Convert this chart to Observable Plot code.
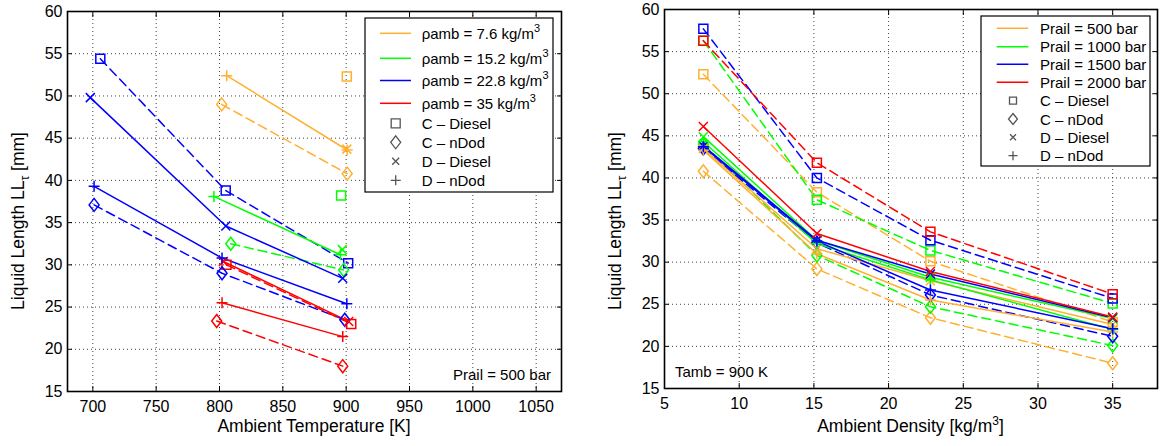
<!DOCTYPE html>
<html><head><meta charset="utf-8">
<script src="https://cdn.jsdelivr.net/npm/d3@7"></script>
<script src="https://cdn.jsdelivr.net/npm/@observablehq/plot@0.6"></script>
<style>
html,body{margin:0;padding:0;background:#fff;}
#wrap{position:relative;width:1164px;height:446px;overflow:hidden;background:#fff;}
#wrap > svg{position:absolute;top:0;}
</style></head><body><div id="wrap"></div>
<script>
// ---------- categories / labels ----------
const caseLabels = ["C – Diesel", "C – nDod", "D – Diesel", "D – nDod"];
const densityLabels = ["7.6", "15.2", "22.8", "35"];
const railLabels = ["500", "1000", "1500", "2000"];
const seriesColors = ["#FFB030", "#00FF00", "#0000FF", "#FF0000"];

const leftXTicks = [700, 750, 800, 850, 900, 950, 1000, 1050];
const leftYTicks = [15, 20, 25, 30, 35, 40, 45, 50, 55, 60];
const rightXTicks = [5, 10, 15, 20, 25, 30, 35];
const rightYTicks = [15, 20, 25, 30, 35, 40, 45, 50, 55, 60];

// ---------- left panel: [ambient temperature K, liquid length mm], Prail = 500 bar ----------
const left_76_CDiesel = [[900.5, 52.3]];
const left_76_CnDod = [[801.7, 49.0], [900.8, 40.8]];
const left_76_DDiesel = [[900.5, 43.7]];
const left_76_DnDod = [[805.7, 52.4], [900.8, 43.6]];
const left_152_CDiesel = [[896, 38.2]];
const left_152_CnDod = [[808.9, 32.5], [898, 29.4]];
const left_152_DDiesel = [[897, 31.8]];
const left_152_DnDod = [[795.6, 38.1], [895.5, 31.2]];
const left_228_CDiesel = [[705.9, 54.4], [804.9, 38.8], [901.6, 30.2]];
const left_228_CnDod = [[701, 37.1], [802, 29.0], [898.9, 23.5]];
const left_228_DDiesel = [[698, 49.8], [805, 34.6], [897.3, 28.4]];
const left_228_DnDod = [[701, 39.3], [802, 30.8], [900.5, 25.4]];
const left_35_CDiesel = [[805.5, 30.0], [904, 23.0]];
const left_35_CnDod = [[797.8, 23.35], [897.3, 18.0]];
const left_35_DDiesel = [[803, 30.4], [902, 23.3]];
const left_35_DnDod = [[802, 25.5], [897.3, 21.5]];

// ---------- right panel: liquid length mm vs ambient density, Tamb = 900 K ----------
const rightDensity = [7.6, 15.2, 22.8, 35];
const right_500_CDiesel = [52.3, 38.3, 30.1, 22.9];
const right_500_CnDod = [40.8, 29.2, 23.4, 18.0];
const right_500_DDiesel = [43.5, 31.6, 27.8, 22.6];
const right_500_DnDod = [43.3, 31.0, 25.5, 21.7];
const right_1000_CDiesel = [56.3, 37.4, 31.4, 25.1];
const right_1000_CnDod = [44.0, 30.8, 24.7, 20.1];
const right_1000_DDiesel = [44.9, 32.6, 28.2, 23.3];
const right_1000_DnDod = [44.3, 32.2, 27.9, 22.0];
const right_1500_CDiesel = [57.7, 40.0, 32.6, 25.7];
const right_1500_CnDod = [43.5, 32.3, 26.1, 21.2];
const right_1500_DDiesel = [43.8, 32.6, 28.6, 23.4];
const right_1500_DnDod = [43.7, 32.5, 26.7, 22.1];
const right_2000_CDiesel = [56.3, 41.8, 33.6, 26.2];
const right_2000_DDiesel = [46.1, 33.4, 28.9, 23.5];

// ---------- build tables ----------
const leftList = [
  [left_76_CDiesel, 0, 0], [left_76_CnDod, 0, 1], [left_76_DDiesel, 0, 2], [left_76_DnDod, 0, 3],
  [left_152_CDiesel, 1, 0], [left_152_CnDod, 1, 1], [left_152_DDiesel, 1, 2], [left_152_DnDod, 1, 3],
  [left_228_CDiesel, 2, 0], [left_228_CnDod, 2, 1], [left_228_DDiesel, 2, 2], [left_228_DnDod, 2, 3],
  [left_35_CDiesel, 3, 0], [left_35_CnDod, 3, 1], [left_35_DDiesel, 3, 2], [left_35_DnDod, 3, 3]
];
const leftRows = [];
leftList.forEach(([arr, ci, ti], si) => arr.forEach(([x, y]) =>
  leftRows.push({x, y, c: densityLabels[ci], t: caseLabels[ti], id: "L" + si})));

const rightList = [
  [right_500_CDiesel, 0, 0], [right_500_CnDod, 0, 1], [right_500_DDiesel, 0, 2], [right_500_DnDod, 0, 3],
  [right_1000_CDiesel, 1, 0], [right_1000_CnDod, 1, 1], [right_1000_DDiesel, 1, 2], [right_1000_DnDod, 1, 3],
  [right_1500_CDiesel, 2, 0], [right_1500_CnDod, 2, 1], [right_1500_DDiesel, 2, 2], [right_1500_DnDod, 2, 3],
  [right_2000_CDiesel, 3, 0], [right_2000_DDiesel, 3, 2]
];
const rightRows = [];
rightList.forEach(([arr, ci, ti], si) => arr.forEach((y, i) =>
  rightRows.push({x: rightDensity[i], y, c: railLabels[ci], t: caseLabels[ti], id: "R" + si})));

// ---------- marker symbols ----------
function mkSquare(s) { return {draw(c) { c.moveTo(-s, -s); c.lineTo(s, -s); c.lineTo(s, s); c.lineTo(-s, s); c.closePath(); }}; }
function mkDiamond(w, h) { return {draw(c) { c.moveTo(0, -h); c.lineTo(w, 0); c.lineTo(0, h); c.lineTo(-w, 0); c.closePath(); }}; }
function mkTimes(s) { return {draw(c) { c.moveTo(-s, -s); c.lineTo(s, s); c.moveTo(s, -s); c.lineTo(-s, s); }}; }
function mkPlus(s) { return {draw(c) { c.moveTo(-s, 0); c.lineTo(s, 0); c.moveTo(0, -s); c.lineTo(0, s); }}; }
const plotSymbols = [mkSquare(4.5), mkDiamond(5, 6.5), mkTimes(4.5), mkPlus(5.5)];

const FONT = "'Liberation Sans', Arial, Helvetica, sans-serif";

function makePanel(o) {
  const dashed = o.rows.filter(d => d.t.startsWith("C"));
  const solid = o.rows.filter(d => d.t.startsWith("D"));
  const gridStyle = {stroke: "#222", strokeOpacity: 0.85, strokeDasharray: "1,3", strokeWidth: 1};
  const tickStyle = {tickSize: -5, tickFormat: () => "", label: null, strokeWidth: 1};
  const marks = [
    Plot.gridX(o.xTicks, gridStyle),
    Plot.gridY(o.yTicks, gridStyle),
    Plot.line(dashed, {x: "x", y: "y", z: "id", stroke: "c", strokeWidth: 1.5, strokeDasharray: "9,5"}),
    Plot.line(solid, {x: "x", y: "y", z: "id", stroke: "c", strokeWidth: 1.5})
  ];
  caseLabels.forEach((lab, i) => {
    marks.push(Plot.dot(o.rows.filter(d => d.t === lab), {x: "x", y: "y", stroke: "c", fill: "none", symbol: plotSymbols[i], r: 5, strokeWidth: 1.5}));
  });
  marks.push(
    Plot.axisX(o.xTicks, {anchor: "bottom", ...tickStyle}),
    Plot.axisX(o.xTicks, {anchor: "top", ...tickStyle}),
    Plot.axisY(o.yTicks, {anchor: "left", ...tickStyle}),
    Plot.axisY(o.yTicks, {anchor: "right", ...tickStyle}),
    Plot.axisX(o.xTicks, {anchor: "bottom", tickSize: 0, tickPadding: 9, label: null, fontSize: 16, tickFormat: d => String(d)}),
    Plot.axisY(o.yTicks, {anchor: "left", tickSize: 0, tickPadding: 5, label: null, fontSize: 16, tickFormat: d => String(d)}),
    Plot.frame({stroke: "#000", strokeWidth: 1.6})
  );
  return Plot.plot({
    width: o.width, height: 446,
    marginLeft: o.ml, marginRight: o.mr, marginTop: o.mt, marginBottom: o.mb,
    x: {domain: o.xDomain}, y: {domain: o.yDomain},
    color: {domain: o.colorDomain, range: seriesColors},
    style: {fontFamily: FONT, fontSize: "16px", color: "#000", background: "transparent", overflow: "visible"},
    marks
  });
}

const wrap = document.getElementById("wrap");

const leftSvg = makePanel({rows: leftRows, xDomain: [680, 1070], yDomain: [15, 60], xTicks: leftXTicks, yTicks: leftYTicks,
  width: 582, ml: 67, mr: 21, mt: 11, mb: 55, colorDomain: densityLabels});
leftSvg.style.left = "0px";
wrap.appendChild(leftSvg);

const rightSvg = makePanel({rows: rightRows, xDomain: [5, 38], yDomain: [15, 60], xTicks: rightXTicks, yTicks: rightYTicks,
  width: 582, ml: 82, mr: 7, mt: 9, mb: 58, colorDomain: railLabels});
rightSvg.style.left = "582px";
wrap.appendChild(rightSvg);

// ---------- titles, annotations, legends ----------
function symPath(sym) { const p = d3.path(); sym.draw(p); return p.toString(); }

function decorate(svg, cfg) {
  const s = d3.select(svg);
  // x title
  const xt = s.append("text").attr("x", cfg.xTitleX).attr("y", 432).attr("text-anchor", "middle")
    .style("font-family", FONT).style("font-size", "17.5px").attr("fill", "#000");
  cfg.xTitle(xt);
  // y title
  const yt = s.append("text").attr("transform", `translate(${cfg.yTitleX},221) rotate(-90)`).attr("text-anchor", "middle")
    .style("font-family", FONT).style("font-size", "17.5px").attr("fill", "#000");
  yt.append("tspan").text("Liquid Length LL");
  yt.append("tspan").text("τ").style("font-size", "12px").attr("dy", 5);
  yt.append("tspan").text(" [mm]").attr("dy", -5);
  // annotation
  s.append("text").attr("x", cfg.noteX).attr("y", cfg.noteY).attr("text-anchor", cfg.noteAnchor)
    .style("font-family", FONT).style("font-size", "15px").attr("fill", "#000").text(cfg.note);
  // legend
  const L = cfg.legend;
  const g = s.append("g").attr("text-anchor", "start");
  g.append("rect").attr("x", L.x).attr("y", L.y).attr("width", L.w).attr("height", L.h)
    .attr("fill", "#fff").attr("stroke", "#000").attr("stroke-width", 1.2);
  L.colorTexts.forEach((txt, i) => {
    const yy = L.rows[i];
    g.append("line").attr("x1", L.lx1).attr("x2", L.lx2).attr("y1", yy).attr("y2", yy)
      .attr("stroke", seriesColors[i]).attr("stroke-width", 1.5);
    const t = g.append("text").attr("x", L.tx).attr("y", yy + 5.5).attr("text-anchor", "start")
      .style("font-family", FONT).style("font-size", "15px").attr("fill", "#000");
    txt(t);
  });
  const legSyms = L.syms;
  caseLabels.forEach((lab, j) => {
    const yy = L.rows[4 + j];
    g.append("path").attr("d", symPath(legSyms[j])).attr("transform", `translate(${L.mx},${yy})`)
      .attr("fill", "none").attr("stroke", "#555").attr("stroke-width", 1.3);
    g.append("text").attr("x", L.tx).attr("y", yy + 5.5).attr("text-anchor", "start")
      .style("font-family", FONT).style("font-size", "15px").attr("fill", "#000").text(lab);
  });
}

decorate(leftSvg, {
  xTitleX: 314,
  xTitle: t => t.text("Ambient Temperature [K]"),
  yTitleX: 24,
  note: "Prail = 500 bar", noteX: 551, noteY: 380, noteAnchor: "end",
  legend: {
    x: 365, y: 18, w: 188, h: 174, lx1: 380, lx2: 411, tx: 421.7, mx: 395.7,
    rows: [33.3, 58.3, 80.5, 103.3, 123.3, 142.3, 161.3, 180.3],
    syms: [mkSquare(4.5), mkDiamond(5, 6.5), mkTimes(3.5), mkPlus(5)],
    colorTexts: densityLabels.map(dl => t => {
      t.append("tspan").text(`ρamb = ${dl} kg/m`);
      t.append("tspan").text("3").style("font-size", "11px").attr("dy", -7);
    })
  }
});

decorate(rightSvg, {
  xTitleX: 328.5,
  xTitle: t => {
    t.append("tspan").text("Ambient Density [kg/m");
    t.append("tspan").text("3").style("font-size", "12px").attr("dy", -7);
    t.append("tspan").text("]").attr("dy", 7);
  },
  yTitleX: 39,
  note: "Tamb = 900 K", noteX: 93, noteY: 377, noteAnchor: "start",
  legend: {
    x: 399, y: 16, w: 169, h: 150, lx1: 414.7, lx2: 446.3, tx: 458, mx: 431,
    rows: [28.3, 46.7, 64.3, 82.3, 100.7, 119, 137.3, 155.7],
    syms: [mkSquare(3.5), mkDiamond(4.5, 5.5), mkTimes(3), mkPlus(4.5)],
    colorTexts: railLabels.map(rl => t => t.text(`Prail = ${rl} bar`))
  }
});
</script></body></html>
